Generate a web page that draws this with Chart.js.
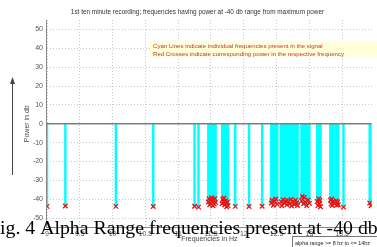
<!DOCTYPE html>
<html>
<head>
<meta charset="utf-8">
<script src="https://cdn.jsdelivr.net/npm/chart.js@4.4.1/dist/chart.umd.min.js"></script>
<style>
  html, body { margin: 0; padding: 0; background: #fff; }
  #wrap { width: 377px; height: 247px; }
</style>
</head>
<body>
<div id="wrap"><canvas id="alpha_chart" width="377" height="247"></canvas></div>
<script>
// frequencies (Hz) found within -40 db of max power, and their power (db)
const freqHz = [
  9.00, 9.28, 10.05, 10.62, 11.25, 11.31,
  11.46, 11.47, 11.48, 11.49, 11.50, 11.51, 11.52, 11.53, 11.54, 11.55, 11.56, 11.57,
  11.67, 11.68, 11.69, 11.70, 11.71, 11.72, 11.73, 11.74, 11.75, 11.76,
  11.87, 12.08, 12.28,
  12.42, 12.43, 12.45, 12.47, 12.49, 12.51,
  12.57, 12.58, 12.60, 12.62, 12.64, 12.66, 12.67,
  12.70, 12.72, 12.73, 12.75, 12.77, 12.79, 12.81, 12.82,
  12.88, 12.89, 12.91, 12.92, 12.94, 12.96, 12.98, 13.00,
  13.12, 13.13, 13.14, 13.15, 13.16, 13.17,
  13.32, 13.33, 13.34, 13.35, 13.36, 13.37,
  13.41, 13.42, 13.43, 13.44, 13.52,
  13.92, 13.94
];
const powerDb = [
  -43.8, -43.6, -43.8, -43.9, -43.7, -44.2,
  -41.5, -39.8, -43.0, -40.6, -42.2, -39.2, -41.0, -43.5, -40.1, -42.6, -39.6, -41.8,
  -42.4, -40.0, -41.3, -39.4, -43.1, -40.8, -42.0, -44.0, -41.5, -43.4,
  -43.8, -43.9, -43.7,
  -42.0, -40.6, -43.2, -41.1, -39.9, -42.7,
  -41.4, -43.5, -40.3, -42.1, -41.0, -43.0, -40.7,
  -42.5, -40.2, -43.6, -41.2, -42.8, -40.5, -41.9, -43.3,
  -40.9, -38.6, -42.4, -39.1, -41.6, -43.4, -40.4, -42.2,
  -41.2, -43.4, -39.8, -42.3, -40.6, -44.0,
  -40.5, -42.6, -39.9, -43.3, -41.2, -42.0,
  -40.8, -43.1, -41.5, -42.9, -44.2,
  -42.0, -43.5
];
const yTicks = [50, 40, 30, 20, 10, 0, -10, -20, -30, -40, -50];
const xTicks = [9, 9.5, 10, 10.5, 11, 11.5, 12, 12.5, 13, 13.5];

const pts = freqHz.map(function (f, i) { return { x: f, y: powerDb[i] }; });

const overlay = {
  id: "overlay",
  afterDatasetsDraw: function (chart) {
    const ctx = chart.ctx;
    const area = chart.chartArea;
    ctx.save();
    // y axis line (solid)
    ctx.strokeStyle = "#888";
    ctx.lineWidth = 1;
    ctx.beginPath();
    ctx.moveTo(area.left - 0.5, area.top);
    ctx.lineTo(area.left - 0.5, area.bottom);
    ctx.lineTo(area.right, area.bottom);
    ctx.stroke();

    // note box
    ctx.fillStyle = "#ffffd9";
    ctx.fillRect(150, 41, 230, 17);
    ctx.fillStyle = "#b83a3a";
    ctx.font = "6.1px 'Liberation Sans', Arial, sans-serif";
    ctx.textBaseline = "middle";
    ctx.fillText("Cyan Lines indicate individual frequencies present in the signal", 153, 46.5);
    ctx.fillText("Red Crosses indicate corresponding power in the respective frequency", 153, 54);
    ctx.restore();
  },
  afterDraw: function (chart) {
    const ctx = chart.ctx;
    ctx.save();
    // title
    ctx.fillStyle = "#333";
    ctx.font = "6.4px 'Liberation Sans', Arial, sans-serif";
    ctx.textAlign = "center";
    ctx.textBaseline = "middle";
    ctx.fillText("1st ten minute recording; frequencies having power at -40 db range from maximum power", 197.5, 12.5);

    // arrow
    ctx.strokeStyle = "#444";
    ctx.fillStyle = "#444";
    ctx.lineWidth = 1;
    ctx.beginPath();
    ctx.moveTo(12.5, 175);
    ctx.lineTo(12.5, 82);
    ctx.stroke();
    ctx.beginPath();
    ctx.moveTo(12.5, 77);
    ctx.lineTo(10, 84);
    ctx.lineTo(15, 84);
    ctx.closePath();
    ctx.fill();

    // caption of the figure, fitted from x=-11 to x=378
    const caption = "Fig. 4 Alpha Range frequencies present at -40 db";
    ctx.fillStyle = "#000";
    ctx.font = "20px 'Liberation Serif', 'Times New Roman', serif";
    const w20 = ctx.measureText(caption).width;
    const size = 20 * 389 / w20;
    ctx.font = size.toFixed(2) + "px 'Liberation Serif', 'Times New Roman', serif";
    ctx.textAlign = "left";
    ctx.textBaseline = "alphabetic";
    ctx.fillText(caption, -11, 234);

    // small box bottom right
    ctx.fillStyle = "#fff";
    ctx.fillRect(292, 236.5, 90, 12);
    ctx.strokeStyle = "#777";
    ctx.lineWidth = 1;
    ctx.strokeRect(292.5, 236.5, 90, 12);
    ctx.fillStyle = "#222";
    ctx.font = "5.4px 'Liberation Sans', Arial, sans-serif";
    ctx.textBaseline = "middle";
    ctx.fillText("alpha range >= 8 hz to <= 14hz", 295, 243.5);
    ctx.restore();
  },
};

const alphaChart = new Chart(document.getElementById("alpha_chart"), {
  data: {
    datasets: [
      {
        type: "scatter",
        data: pts,
        pointStyle: "crossRot",
        pointRadius: 3.2,
        borderColor: "#f01010",
        borderWidth: 1.3,
        order: 0,
      },
      {
        type: "line",
        data: [{ x: 9, y: 0 }, { x: 13.95, y: 0 }],
        borderColor: "#7f7f7f",
        borderWidth: 1.5,
        pointRadius: 0,
        order: 1,
      },
      {
        type: "bar",
        data: pts,
        backgroundColor: "#00ffff",
        barThickness: 1.8,
        order: 2,
      },
    ],
  },
  options: {
    responsive: false,
    animation: false,
    layout: { padding: { left: 0, right: 0, top: 20, bottom: 0 } },
    plugins: {
      legend: { display: false },
      tooltip: { enabled: false },
    },
    scales: {
      x: {
        type: "linear",
        offset: false,
        min: 9,
        max: 13.95,
        afterBuildTicks: function (scale) {
          scale.ticks = xTicks.map(function (v) { return { value: v }; });
        },
        afterFit: function (scale) {
          scale.height = 19.5;
          scale.paddingLeft = 0;
          scale.paddingRight = 0;
        },
        grid: {
          color: "#c8c8c8",
          drawTicks: false,
          offset: false,
        },
        border: { display: false, dash: [1, 2] },
        ticks: {
          padding: 2,
          color: "#555",
          font: { size: 7, family: "'Liberation Sans', Arial, sans-serif" },
          maxRotation: 0,
          autoSkip: false,
          callback: function (v) { return String(v); },
        },
        title: {
          display: true,
          text: "Frequencies in Hz",
          color: "#444",
          font: { size: 7, family: "'Liberation Sans', Arial, sans-serif" },
          padding: { top: 0, bottom: 4 },
        },
      },
      y: {
        min: -55,
        max: 55,
        afterBuildTicks: function (scale) {
          scale.ticks = yTicks.map(function (v) { return { value: v }; });
        },
        afterFit: function (scale) {
          scale.width = 47;
          scale.paddingTop = 0;
          scale.paddingBottom = 0;
        },
        grid: {
          color: "#c8c8c8",
          drawTicks: false,
        },
        border: { display: false, dash: [1, 2] },
        ticks: {
          padding: 4,
          color: "#555",
          font: { size: 7, family: "'Liberation Sans', Arial, sans-serif" },
        },
        title: {
          display: true,
          text: "Power in db",
          color: "#444",
          font: { size: 7, family: "'Liberation Sans', Arial, sans-serif" },
          padding: { top: 23, bottom: 0 },
        },
      },
    },
  },
  plugins: [overlay],
});
</script>
</body>
</html>
